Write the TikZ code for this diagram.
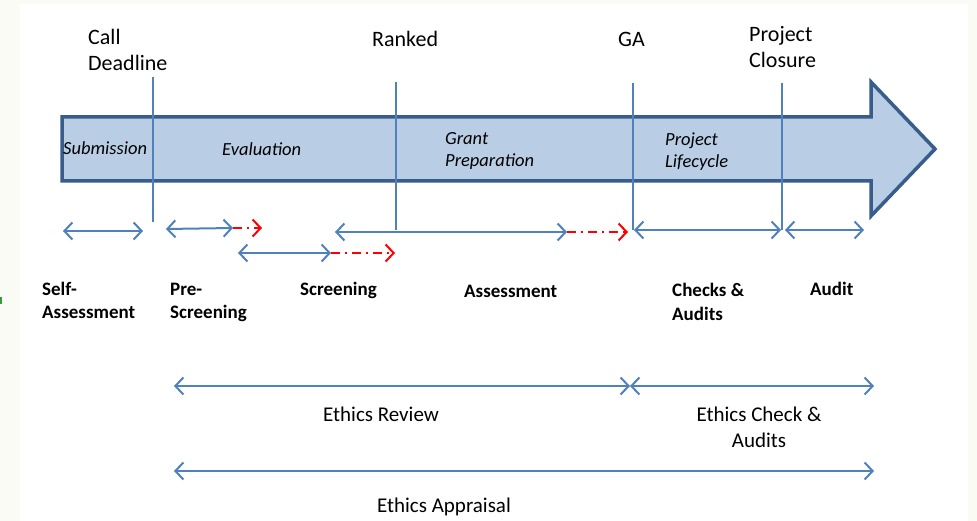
\documentclass[tikz,border=0pt]{standalone}
\usepackage{fontspec}
\setmainfont{Carlito}
\usetikzlibrary{arrows.meta}
\definecolor{bgc}{HTML}{FAFBF5}
\definecolor{bodyfill}{HTML}{B9CDE5}
\definecolor{bodyline}{HTML}{385D8A}
\definecolor{lineblue}{HTML}{4F81BD}
\definecolor{dotgreen}{HTML}{3A9A3A}
\begin{document}
\begin{tikzpicture}[x=1pt,y=-1pt,
  marker/.style={lineblue, line width=1.8pt},
  span/.style={lineblue, line width=2pt, {Straight Barb[length=8pt,width=17pt]}-{Straight Barb[length=8pt,width=17pt]}},
  late/.style={red, line width=2pt, dash pattern=on 9pt off 5pt on 2pt off 5pt, -{Straight Barb[length=8pt,width=17pt]}},
  toplbl/.style={anchor=base west, inner sep=0pt, align=left, font=\fontsize{22}{26}\selectfont},
  phase/.style={anchor=base west, inner sep=0pt, align=left, font=\fontsize{18.5}{22.5}\selectfont\itshape},
  task/.style={anchor=base west, inner sep=0pt, align=left, font=\fontsize{19}{23.5}\selectfont\bfseries},
  ethics/.style={anchor=base, inner sep=0pt, align=center, font=\fontsize{21}{26}\selectfont},
]
\useasboundingbox (0,0) rectangle (977,521);
\fill[bgc] (0,0) rectangle (977,521);
\fill[white] (20,4) rectangle (968,521);
\fill[dotgreen] (0,297) rectangle (2,304);

% main arrow
\draw[bodyline, fill=bodyfill, line width=3.5pt, line join=miter]
  (62,117) -- (871,117) -- (871,82) -- (935,149) -- (871,216) -- (871,181) -- (62,181) -- cycle;

% phase labels (base = last line)
\node[phase] (sub) at (63,155) {Submission};
\node[phase] (eval) at (222,156) {Evaluation};
\node[phase] (grant) at (445,167) {Grant\\Preparation};
\node[phase] (life) at (665,168) {Project\\Lifecycle};

% milestone labels
\node[toplbl] (call) at (88,71) {Call\\Deadline};
\node[toplbl] (ranked) at (372,47) {Ranked};
\node[toplbl] (ga) at (618,47) {GA};
\node[toplbl] (closure) at (749,68) {Project\\Closure};

% milestone lines
\coordinate (cdT) at (153,77); \coordinate (cdB) at (153,222);
\coordinate (rkT) at (396,82); \coordinate (rkB) at (396,230);
\coordinate (gaT) at (633,83); \coordinate (gaB) at (633,230);
\coordinate (pcT) at (782,83); \coordinate (pcB) at (782,230);
\draw[marker] (cdT) -- (cdB);
\draw[marker] (rkT) -- (rkB);
\draw[marker] (gaT) -- (gaB);
\draw[marker] (pcT) -- (pcB);

% task spans
\coordinate (saL) at (63,231); \coordinate (saR) at (143,231);
\coordinate (psL) at (166,229); \coordinate (psR) at (233,228); \coordinate (psX) at (262,228);
\coordinate (scL) at (238,253); \coordinate (scR) at (331,253); \coordinate (scX) at (395,253);
\coordinate (asL) at (335,232); \coordinate (asR) at (567,232); \coordinate (asX) at (628,232);
\coordinate (caL) at (634,230); \coordinate (caR) at (781,230);
\coordinate (auL) at (785,230); \coordinate (auR) at (864,230);
\draw[span] (saL) -- (saR);
\draw[span] (psL) -- (psR);
\draw[late] (psR) -- (psX);
\draw[span] (scL) -- (scR);
\draw[late] (scR) -- (scX);
\draw[span] (asL) -- (asR);
\draw[late] (asR) -- (asX);
\draw[span] (caL) -- (caR);
\draw[span] (auL) -- (auR);

% task labels
\node[task] (tsa) at (42,319) {Self-\\Assessment};
\node[task] (tps) at (170,319) {Pre-\\Screening};
\node[task] (tsc) at (300,296) {Screening};
\node[task] (tas) at (464,298) {Assessment};
\node[task] (tca) at (672,320) {Checks \&\\Audits};
\node[task] (tau) at (810,295) {Audit};

% ethics spans
\coordinate (erL) at (174,386); \coordinate (erR) at (630,386);
\coordinate (ecR) at (874,386);
\coordinate (eaL) at (174,471); \coordinate (eaR) at (874,471);
\draw[span] (erL) -- (erR);
\draw[span] (erR) -- (ecR);
\draw[span] (eaL) -- (eaR);
\node[ethics] (ler) at (381,421) {Ethics Review};
\node[ethics] (lec) at (759,447) {Ethics Check \&\\Audits};
\node[ethics] (lea) at (444,512) {Ethics Appraisal};
\end{tikzpicture}
\end{document}
